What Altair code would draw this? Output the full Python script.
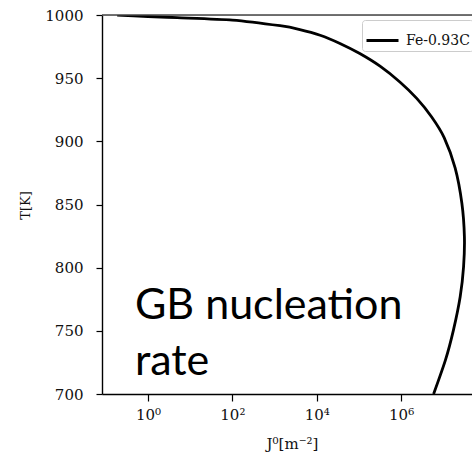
import altair as alt
import pandas as pd

# Curve: exponent of J0 (log10, m^-2) and temperature (K)
log10_J = [-0.73, 0.0, 0.69, 2.0, 3.13, 3.6, 4.08, 4.55, 5.02, 5.5, 5.97, 6.37,
           6.72, 7.02, 7.28, 7.44, 7.50, 7.48, 7.40, 7.24, 7.05, 6.77]
temps = [1000, 998.8, 997.9, 996.0, 991.5, 988.5, 984, 977.5, 969.5, 959.5, 947, 934,
         919.5, 903, 879, 851, 824.5, 800.7, 777, 750.6, 726.8, 700]
series_name = "Fe-0.93C"

x_ticks = [1, 100, 10000, 1000000]
y_ticks = [700, 750, 800, 850, 900, 950, 1000]
x_domain = [10 ** -1.09, 10 ** 7.68]
y_domain = [700, 1000]

annot_lines = ["GB nucleation", "rate"]
annot_x = 0.49
annot_y = 759

df = pd.DataFrame({
    "J": [10 ** v for v in log10_J],
    "T": temps,
    "idx": list(range(len(temps))),
    "series": [series_name] * len(temps),
})

serif = "DejaVu Serif"

xscale = alt.Scale(type="log", domain=x_domain, nice=False)
yscale = alt.Scale(domain=y_domain, nice=False, zero=False)

line = alt.Chart(df).mark_line(strokeWidth=2.8, clip=True, interpolate="cardinal", tension=0.3).encode(
    x=alt.X("J:Q", scale=xscale,
            axis=alt.Axis(title="J⁰[m⁻²]", values=x_ticks,
                          labelExpr="datum.value == 1 ? '10⁰' : datum.value == 100 ? '10²' : datum.value == 10000 ? '10⁴' : '10⁶'",
                          grid=False, tickSize=7, tickColor="black", tickWidth=1.2,
                          domainColor="black", domainWidth=1.4,
                          labelFont=serif, labelFontSize=15, labelColor="#111111", labelPadding=6,
                          titleFont=serif, titleFontSize=15, titleFontWeight="normal",
                          titleColor="#111111", titlePadding=14, titleX=190)),
    y=alt.Y("T:Q", scale=yscale,
            axis=alt.Axis(title="T[K]", values=y_ticks, format="d", grid=False,
                          tickSize=6, tickColor="black", tickWidth=1.2,
                          domainColor="black", domainWidth=1.4,
                          labelFont=serif, labelFontSize=15, labelColor="#111111", labelPadding=13,
                          titleFont=serif, titleFontSize=13, titleFontWeight="normal",
                          titleColor="#111111", titleX=-77, titleY=190, titleBaseline="middle")),
    order="idx:Q",
    color=alt.Color("series:N",
                    scale=alt.Scale(domain=[series_name], range=["black"]),
                    legend=alt.Legend(title=None, orient="none", legendX=260, legendY=5,
                                      symbolType="stroke", symbolSize=1024, symbolStrokeWidth=3,
                                      labelFont=serif, labelFontSize=14, labelColor="#111111",
                                      strokeColor="#cccccc", fillColor="white", cornerRadius=3,
                                      padding=3, labelOffset=6)),
)

top_border = alt.Chart(pd.DataFrame({"T": [1000]})).mark_rule(color="#444444", strokeWidth=1.4).encode(
    y=alt.Y("T:Q", scale=yscale)
)

annot = alt.Chart(pd.DataFrame({"x": [annot_x], "y": [annot_y]})).mark_text(
    text=annot_lines, font="Lato", fontSize=43, align="left", baseline="alphabetic",
    lineHeight=56, color="black"
).encode(
    x=alt.X("x:Q", scale=xscale),
    y=alt.Y("y:Q", scale=yscale),
)

chart = alt.layer(line, top_border, annot).properties(
    width=370, height=379,
    autosize=alt.AutoSizeParams(type="none"),
    padding={"left": 102, "top": 15, "right": 0, "bottom": 64},
).configure_view(stroke=None).configure(background="white")

chart.save("out.html", embed_options={"renderer": "svg", "actions": False})
